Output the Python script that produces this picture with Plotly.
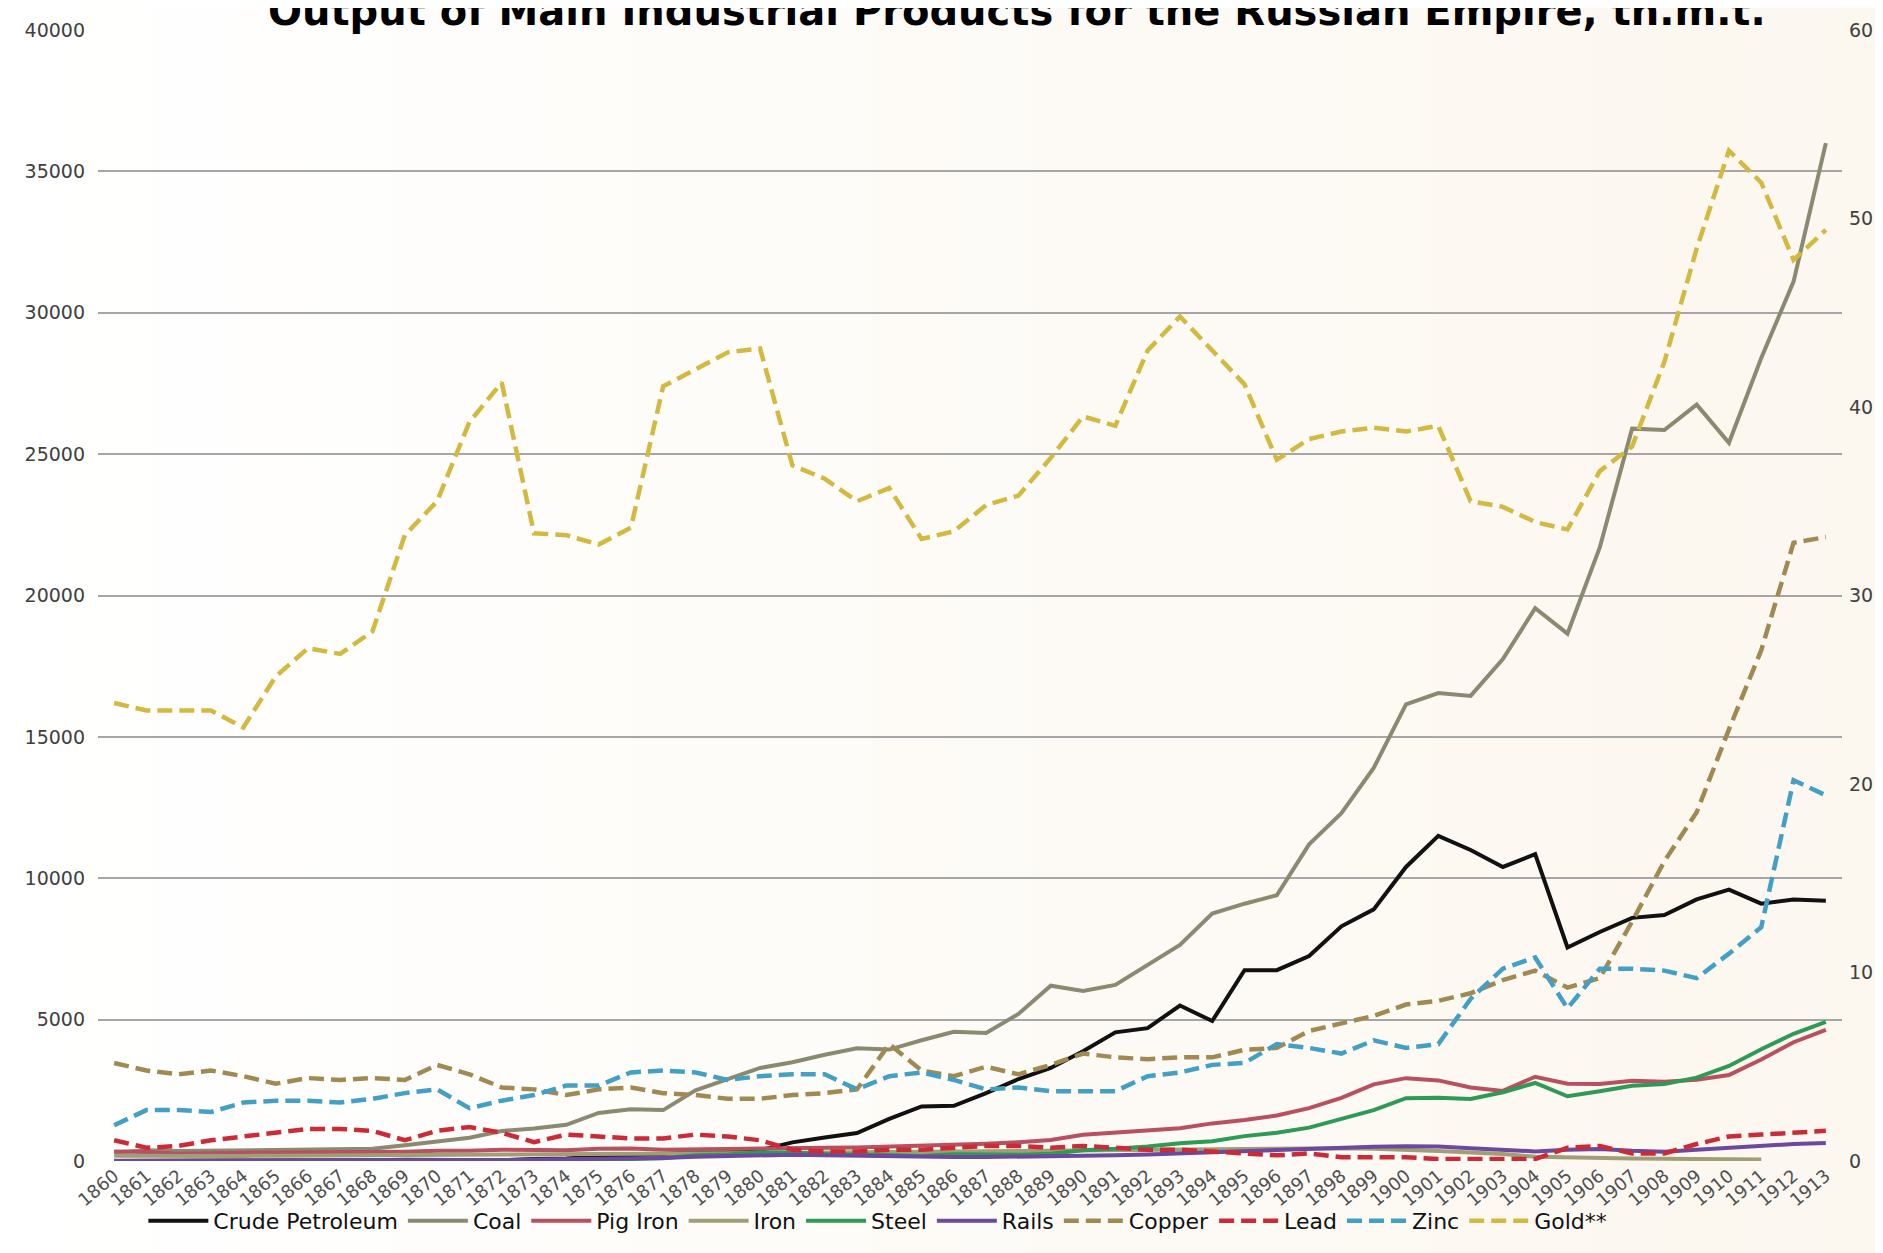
import plotly.graph_objects as go

years = list(range(1860, 1914))

# left axis, thousand metric tons
crude_petroleum = [4, 4, 4, 6, 9, 9, 13, 17, 29, 42, 33, 27, 27, 68, 88, 160, 200, 250, 330, 400,
                   380, 660, 830, 990, 1490, 1930, 1950, 2400, 2900, 3290, 3880, 4550, 4700, 5500, 4950, 6750,
                   6750, 7250, 8300, 8900, 10400, 11500, 11000, 10400, 10850, 7550, 8100, 8600, 8700, 9250,
                   9600, 9100, 9250, 9200]
coal = [300, 380, 350, 360, 380, 380, 410, 420, 430, 560, 690, 820, 1060, 1150, 1280, 1700, 1830, 1800,
        2500, 2900, 3290, 3490, 3760, 3990, 3940, 4270, 4570, 4530, 5200, 6200, 6015, 6230, 6920, 7640,
        8750, 9100, 9400, 11200, 12300, 13900, 16150, 16550, 16450, 17750, 19550, 18650, 21700, 25900,
        25850, 26750, 25400, 28400, 31100, 36000]
pig_iron = [336, 320, 260, 290, 295, 300, 310, 290, 320, 330, 359, 360, 400, 380, 380, 430, 440, 400, 420,
            440, 449, 470, 470, 480, 510, 530, 560, 610, 667, 740, 928, 1000, 1070, 1160, 1330, 1450, 1610,
            1870, 2230, 2710, 2930, 2850, 2600, 2480, 2980, 2730, 2720, 2840, 2800, 2870, 3040, 3590, 4200,
            4640]
iron = [190, 180, 170, 175, 180, 185, 190, 195, 200, 200, 210, 215, 220, 225, 230, 240, 250, 250, 260, 270,
        280, 290, 300, 310, 300, 300, 310, 320, 330, 340, 350, 360, 370, 380, 390, 400, 420, 450, 450, 430,
        400, 350, 300, 250, 150, 120, 100, 90, 80, 70, 60, 50, None, None]
steel = [2, 3, 3, 3, 4, 4, 5, 6, 7, 8, 9, 10, 20, 30, 30, 40, 70, 100, 200, 230, 307, 300, 250, 240, 210,
         190, 240, 220, 220, 260, 378, 430, 510, 630, 700, 880, 1000, 1180, 1480, 1800, 2220, 2240, 2190,
         2430, 2760, 2290, 2470, 2660, 2720, 2950, 3360, 3950, 4500, 4920]
rails = [5, 5, 5, 5, 5, 5, 8, 10, 12, 15, 20, 25, 35, 50, 60, 70, 90, 110, 150, 180, 200, 220, 200, 180,
         160, 150, 140, 140, 150, 160, 180, 200, 230, 270, 300, 330, 380, 430, 480, 500, 520, 510, 450, 380,
         340, 400, 420, 360, 330, 400, 470, 520, 600, 640]

# right axis, thousand metric tons (gold: tons)
copper = [5.2, 4.8, 4.6, 4.8, 4.5, 4.1, 4.4, 4.3, 4.4, 4.3, 5.1, 4.6, 3.9, 3.8, 3.5, 3.8, 3.9, 3.6, 3.5,
          3.3, 3.3, 3.5, 3.6, 3.8, 6.2, 4.8, 4.5, 5.0, 4.6, 5.1, 5.7, 5.5, 5.4, 5.5, 5.5, 5.9, 6.0, 6.9,
          7.3, 7.7, 8.3, 8.5, 8.9, 9.6, 10.1, 9.2, 9.7, 12.7, 15.9, 18.5, 22.9, 27.1, 32.8, 33.1]
lead = [1.1, 0.7, 0.8, 1.1, 1.3, 1.5, 1.7, 1.7, 1.6, 1.1, 1.6, 1.8, 1.5, 1.0, 1.4, 1.3, 1.2, 1.2, 1.4,
        1.3, 1.1, 0.6, 0.5, 0.5, 0.6, 0.6, 0.7, 0.8, 0.8, 0.7, 0.8, 0.7, 0.6, 0.6, 0.5, 0.4, 0.3, 0.4,
        0.2, 0.2, 0.2, 0.1, 0.1, 0.1, 0.1, 0.7, 0.8, 0.4, 0.4, 0.9, 1.3, 1.4, 1.5, 1.6]
zinc = [1.9, 2.7, 2.7, 2.6, 3.1, 3.2, 3.2, 3.1, 3.3, 3.6, 3.8, 2.8, 3.2, 3.5, 4.0, 4.0, 4.7, 4.8, 4.7,
        4.3, 4.5, 4.6, 4.6, 3.8, 4.5, 4.7, 4.3, 3.8, 3.9, 3.7, 3.7, 3.7, 4.5, 4.7, 5.1, 5.2, 6.2, 6.0,
        5.7, 6.4, 6.0, 6.2, 8.6, 10.2, 10.8, 8.1, 10.2, 10.2, 10.1, 9.7, 11.0, 12.4, 20.2, 19.4]
gold = [24.3, 23.9, 23.9, 23.9, 23.0, 25.7, 27.2, 26.9, 28.1, 33.2, 35.0, 39.2, 41.3, 33.3, 33.2, 32.7,
        33.6, 41.1, 42.0, 42.9, 43.1, 36.9, 36.2, 35.0, 35.7, 33.0, 33.4, 34.8, 35.3, 37.3, 39.5, 39.0,
        43.0, 44.8, 43.0, 41.2, 37.2, 38.3, 38.7, 38.9, 38.7, 39.0, 35.0, 34.7, 33.9, 33.5, 36.6, 37.9,
        42.4, 48.4, 53.6, 51.9, 47.8, 49.4]

series = [
    ("Crude Petroleum", crude_petroleum, "#111111", "y", "solid"),
    ("Coal", coal, "#8a8a70", "y", "solid"),
    ("Pig Iron", pig_iron, "#b8505f", "y", "solid"),
    ("Iron", iron, "#a09e76", "y", "solid"),
    ("Steel", steel, "#2e9a55", "y", "solid"),
    ("Rails", rails, "#6b4a9e", "y", "solid"),
    ("Copper", copper, "#a08a52", "y2", "15px,7px"),
    ("Lead", lead, "#cc2a36", "y2", "15px,7px"),
    ("Zinc", zinc, "#41a0c4", "y2", "15px,7px"),
    ("Gold**", gold, "#d3b940", "y2", "15px,7px"),
]

fig = go.Figure()
for name, vals, color, axis, dash in series:
    fig.add_trace(go.Scatter(
        x=years, y=vals, name=name, yaxis=axis, mode="lines",
        line=dict(color=color, width=4 if dash == "solid" else 4.5, dash=dash),
    ))

# soft white -> beige background gradient
bands = 24
for i in range(bands):
    t = i / (bands - 1)
    r = 255 - round(3 * t)
    g = 255 - round(8 * t)
    b = 255 - round(16 * t)
    fig.add_shape(type="rect", xref="paper", yref="paper", layer="below",
                  x0=-0.06 + i * 1.1 / bands, x1=-0.06 + (i + 1) * 1.1 / bands + 0.002,
                  y0=-0.1, y1=1.03, line_width=0, fillcolor=f"rgb({r},{g},{b})")

# title sits partly above the page edge, as in the source image
fig.add_annotation(
    text="<b>Output of Main Industrial Products for the Russian Empire, th.m.t.</b>",
    xref="paper", yref="paper", x=0.527, y=0.995, xanchor="center", yanchor="bottom",
    showarrow=False, font=dict(family="DejaVu Sans", size=40, color="#000000"),
)

fig.update_layout(
    width=1883, height=1253,
    margin=dict(l=90, r=49, t=22, b=100),
    paper_bgcolor="#ffffff", plot_bgcolor="rgba(0,0,0,0)",
    font=dict(family="DejaVu Sans", color="#404040"),
    showlegend=True,
    legend=dict(orientation="h", x=0.026, y=-0.053, xanchor="left", yanchor="middle",
                bgcolor="rgba(0,0,0,0)", font=dict(size=22, color="#111111"),
                itemwidth=60),
    xaxis=dict(range=[1859.5, 1913.5], tickmode="array", tickvals=years,
               ticktext=[str(y) for y in years], tickangle=-40, showgrid=False,
               zeroline=False, ticks="", tickfont=dict(size=18, color="#505050")),
    yaxis=dict(range=[0, 40000], dtick=5000, tickformat="d", showgrid=True,
               gridcolor="#a6a6a6", gridwidth=2, zeroline=False, ticks="",
               tickfont=dict(size=19, color="#404040"), ticklabelstandoff=12),
    yaxis2=dict(range=[0, 60], dtick=10, overlaying="y", side="right", showgrid=False,
                zeroline=False, ticks="", tickfont=dict(size=19, color="#404040"),
                ticklabelstandoff=6),
)

fig.write_html("out.html")
